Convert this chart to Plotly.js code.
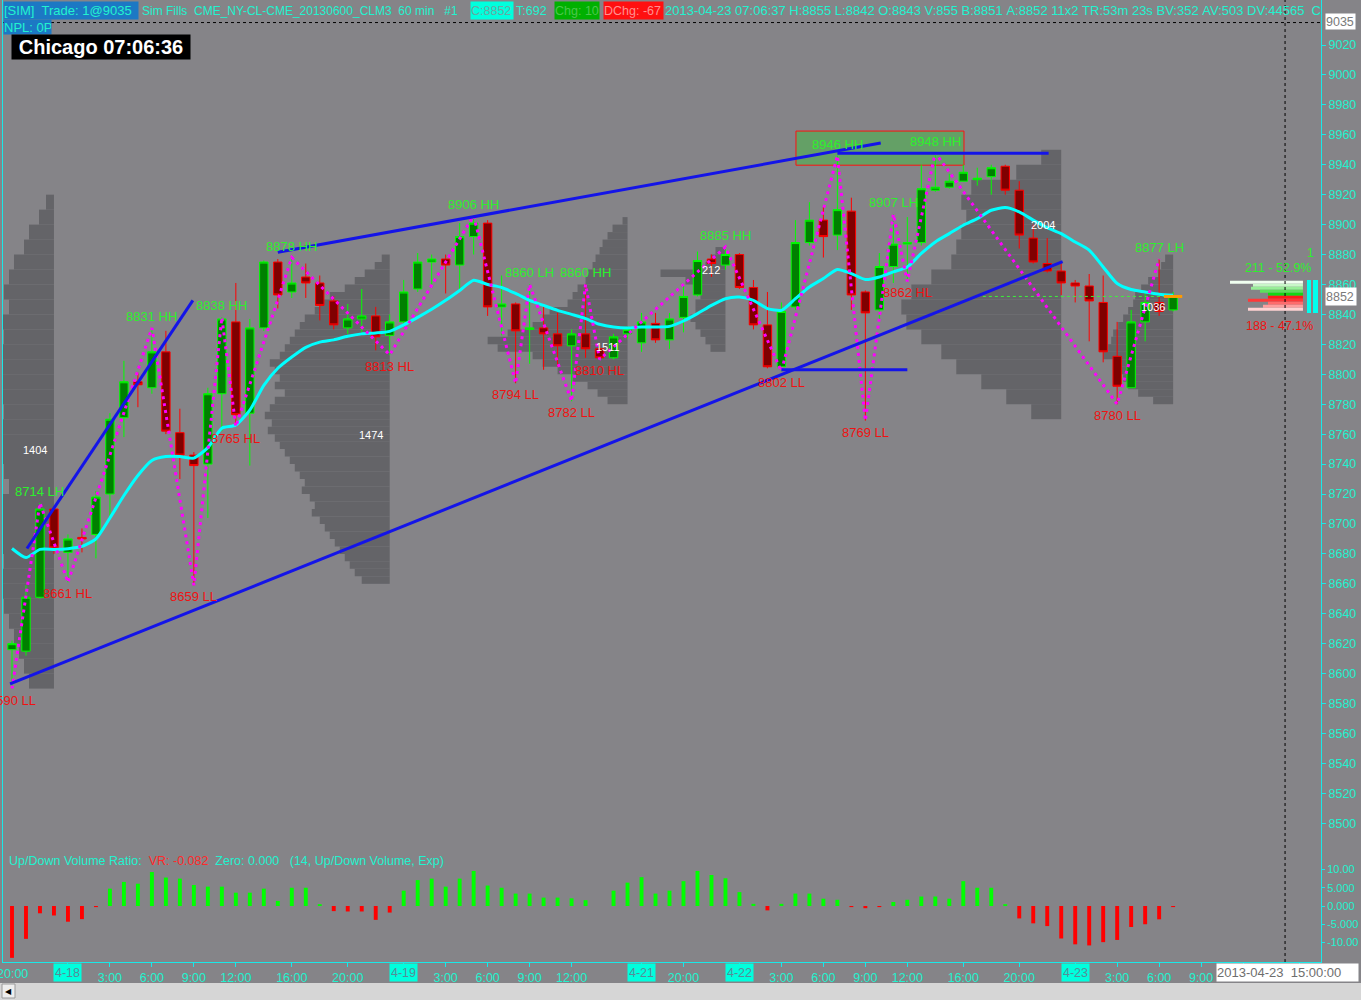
<!DOCTYPE html>
<html><head><meta charset="utf-8">
<script src="https://cdn.plot.ly/plotly-3.0.1.min.js"></script>
<style>html,body{margin:0;padding:0;background:#858488;overflow:hidden}#chart{width:1361px;height:1000px}</style>
</head><body><div id="chart"></div>
<script>
// ---------- DATA (60-min bars, index 0 = 2013-04-17 20:00 CT) ----------
const openP=[8616,8615,8651,8710,8681,8691,8693,8720,8771,8795, 8791,8815,8761,8746,8740,8787,8835,8774,8831,8875, 8855,8865,8861,8849,8831,8837,8839,8826,8835,8857, 8875,8877,8873,8892,8901,8845,8847,8830,8831,8827, 8819,8827,8817,8811,8827,8821,8834,8823,8838,8853, 8877,8873,8880,8858,8833,8805,8845,8888,8903,8893, 8909,8855,8843,8872,8887,8888,8923,8925,8929,8930, 8932,8939,8923,8891,8874,8869,8861,8859,8848,8812, 8791,8835,8848,8843];
const highP=[8622,8659,8714,8712,8693,8697,8722,8774,8809,8801, 8831,8829,8777,8748,8791,8838,8861,8837,8876,8877, 8878,8874,8866,8852,8847,8857,8845,8840,8863,8881, 8880,8880,8901,8906,8903,8866,8848,8860,8845,8841, 8830,8860,8820,8827,8832,8841,8841,8841,8860,8882, 8880,8885,8881,8863,8855,8848,8903,8915,8912,8946, 8918,8856,8881,8907,8905,8940,8948,8934,8940,8938, 8940,8940,8929,8900,8891,8875,8863,8867,8866,8835, 8843,8854,8877,8855];
const lowP=[8590,8612,8650,8680,8661,8681,8677,8704,8758,8778, 8787,8760,8730,8659,8704,8762,8765,8739,8829,8844, 8851,8851,8836,8830,8827,8828,8816,8813,8833,8855, 8860,8854,8857,8880,8839,8826,8794,8807,8803,8805, 8782,8811,8810,8810,8824,8815,8821,8817,8828,8852, 8865,8870,8857,8830,8804,8802,8843,8886,8878,8883, 8843,8769,8836,8861,8862,8886,8922,8924,8929,8926, 8920,8920,8884,8874,8868,8853,8848,8822,8808,8780, 8791,8822,8839,8842];
const closeP=[8620,8651,8710,8684,8690,8690,8718,8770,8795,8793, 8815,8762,8746,8739,8787,8837,8773,8831,8875,8853, 8861,8861,8846,8833,8837,8839,8825,8835,8855,8875, 8877,8873,8892,8901,8845,8847,8829,8831,8827,8819, 8827,8817,8811,8825,8830,8835,8823,8837,8852,8876, 8874,8880,8858,8833,8805,8842,8888,8903,8892,8910, 8853,8841,8872,8887,8888,8924,8925,8929,8935,8931, 8938,8923,8893,8875,8869,8861,8859,8849,8815,8792, 8835,8848,8842,8852];
const ema=[8683.6,8677.5,8683,8683,8683.5,8685,8690,8704,8719,8732.4, 8742.4,8745,8745,8744,8751,8764,8766,8776,8792.6,8804, 8811.5,8818,8821.5,8823,8825.4,8827,8827.6,8828.7,8833,8838, 8843.4,8849.4,8856,8862.8,8860,8858,8854,8849.4,8846,8842.7, 8840,8837.2,8833.4,8831.6,8831,8831.6,8831.6,8832,8835.6,8840.5, 8846,8850.5,8851.6,8849.4,8843.9,8842.7,8850.5,8858.3,8864,8870, 8867.3,8863.3,8865,8868.4,8871.7,8880.7,8888.4,8894,8899.6,8904, 8909.6,8911.4,8908.5,8903,8898,8894,8888.4,8883,8871.7,8860.6, 8856.6,8855,8853.4,8852.8];
const udvr=[-14.2,-9.0,-2.0,-2.6,-4.3,-3.6,-0.3,4.75,6.6,6.1, 9.3,7.8,7.5,5.75,5.3,5.3,3.65,3.65,4.75,1.4, 5.0,5.0,0.5,-1.4,-1.5,-1.5,-3.8,-1.8,4.2,7.1, 7.5,5.3,7.5,9.6,5.6,5.0,3.4,3.4,2.3,2.3, 2.1,1.6,0,4.2,6.4,7.9,3.4,4.2,6.8,9.6, 8.5,7.6,3.8,0.6,-1.2,0.6,3.4,3.4,2.0,1.7, -0.3,-0.6,-0.3,1.1,1.7,2.6,2.6,2.0,6.8,5.0, 5.0,0.5,-3.4,-4.75,-5.5,-8.9,-10.5,-10.8,-9.9,-9.3, -5.75,-5.0,-3.65,-0.3];

const swingIdx=[0,2,4,10,13,15,16,20,27,33,36,37,40,41,42,51,55,59,61,63,64,66,79,82];
const swingPrice=[8590,8714,8661,8831,8659,8838,8765,8878,8813,8906,8794,8860,8782,8860,8810,8885,8802,8946,8769,8907,8862,8948,8780,8877];
const swingTag=['LL','LH','HL','HH','LL','HH','HL','HH','HL','HH','LL','LH','LL','HH','HL','HH','LL','HH','LL','LH','HL','HH','LL','LH'];

const trendX=[[1.07,12.93],[19.0,62.1],[-0.14,75.1],[55.0,64.0],[59.0,74.1]];
const trendY=[[8683.6,8849.4],[8881.6,8954.5],[8593.1,8875.2],[8803,8803],[8947.6,8947.6]];
const zoneX=[56.04,68.05];
const zoneY=[8939.7,8962.5];

// session volume profiles (right-aligned at last bar of each session)
const profRight=[3,27,44,51,75,83];
const profTop=[8920,8880,8905,8885,8950,8880];
const profStep=[10,5,5,5,10,5];
const profA=[8,15,25,30,40,45,50,45,55,50,55,60,55,60,50,60,55,60,50,45,55,60,60,55,50,60,55,50,45,40,35,30,25];
const profB=[8,15,25,35,45,60,70,75,85,90,95,100,105,110,120,115,110,115,105,115,120,125,118,122,115,110,105,100,95,90,85,88,80,75,78,70,65,60,55,50,45,40,35,28];
const profC=[5,15,20,25,28,32,35,40,42,50,55,60,78,85,95,120,140,130,95,85,70,55,40,30,20];
const profD=[10,15,20,65,40,25,25,30,30,35,30,25,20,15];
const profE=[20,45,90,100,95,100,105,110,130,150,160,155,140,120,105,80,55,30];
const profF=[8,12,15,25,32,38,40,45,50,55,60,62,65,70,60,55,50,45,35,20];
const profTotal=['1404','1474','212','1511','2004','1036'];
const profLabelX=[1.64,25.66,49.96,42.6,73.7,81.56];
const profLabelY=[8749.4,8759.4,8869.7,8818.2,8899.7,8845];

// current bar bid/ask profile
const curPrice=[8861.5,8859.5,8857.5,8855.5,8853.5,8851.5,8849.5,8847.5,8845.5,8843.5];
const curVol=[73,50,52,43,35,35,55,35,40,55];

const timeTickIdx=[0,7,10,13,16,20,24,31,34,37,40,48,55,58,61,64,68,72,79,82,85];
const timeTickText=['20:00','3:00','6:00','9:00','12:00','16:00','20:00','3:00','6:00','9:00','12:00','20:00','3:00','6:00','9:00','12:00','16:00','20:00','3:00','6:00','9:00'];
const hiddenTickIdx=[88,92];
const dateTickIdx=[4,28,45,52,76];
const dateTickText=['4-18','4-19','4-21','4-22','4-23'];
const priceTicks=[8500,8520,8540,8560,8580,8600,8620,8640,8660,8680,8700,8720,8740,8760,8780,8800,8820,8840,8860,8880,8900,8920,8940,8960,8980,9000,9020];
const vrTicks=[-10,-5,0,5,10];
const vrTickText=['-10.00','-5.000','0.000','5.000','10.00'];

const tradePrice=9035;
const cursorIdx=91;
const curRightIdx=92.28;

// ---------- STYLE ----------
const BG='#858488', PROF='#646468', CY='#22f2cf', AXC='#19e8e8';
const GREEN_T='#2cf02c', RED_T='#f01212';
const FONT='"Liberation Sans", Arial, sans-serif';
const VOL_PER_BAR=14;
const L=3,R=1321,B=962,W=R-L,H=B;
const PX=x=>(x-L)/W, PY=y=>(B-y)/H;
const idx=openP.map((_,i)=>i);
const last=idx.length-1;

const traces=[];
[profA,profB,profC,profD,profE,profF].forEach((v,k)=>{
  traces.push({type:'bar',orientation:'h',xaxis:'x',yaxis:'y',
    y:v.map((_,j)=>profTop[k]-profStep[k]*(j+0.5)),
    x:v.map(q=>-q/VOL_PER_BAR),base:profRight[k],width:profStep[k],
    marker:{color:PROF,line:{width:0}},hoverinfo:'skip'});
});
const curColors=['#f0fff0','#c8f7c8','#98ee98','#5ce05c','#14d814','#ff1a1a','#ff3838','#ff6c6c','#ff9e9e','#ffd2d2'];
traces.push({type:'bar',orientation:'h',xaxis:'x',yaxis:'y',y:curPrice,x:curVol.map(q=>-q/VOL_PER_BAR),
  base:curRightIdx,width:2,marker:{color:curColors,line:{width:0}},hoverinfo:'skip'});

traces.push({type:'candlestick',xaxis:'x',yaxis:'y',x:idx,open:openP,high:highP,low:lowP,close:closeP,
  increasing:{line:{color:'#00ff00',width:1},fillcolor:'#008000'},
  decreasing:{line:{color:'#ff0000',width:1},fillcolor:'#800000'},
  whiskerwidth:0,hoverinfo:'skip'});

traces.push({type:'scatter',mode:'lines',xaxis:'x',yaxis:'y',x:[69.4,last+0.6],y:[closeP[last],closeP[last]],
  line:{color:'#3cf03c',width:1,dash:'dot'},hoverinfo:'skip'});
traces.push({type:'scatter',mode:'lines',xaxis:'x',yaxis:'y',x:idx,y:ema,
  line:{color:'#00ffff',width:3,shape:'spline',smoothing:0.6},hoverinfo:'skip'});
traces.push({type:'scatter',mode:'lines',xaxis:'x',yaxis:'y',x:swingIdx,y:swingPrice,
  line:{color:'#ff00ff',width:3,dash:'3px,4px'},hoverinfo:'skip'});
trendX.forEach((tx,k)=>traces.push({type:'scatter',mode:'lines',xaxis:'x',yaxis:'y',x:tx,y:trendY[k],
  line:{color:'#1414e8',width:3},hoverinfo:'skip'}));
traces.push({type:'scatter',mode:'markers',xaxis:'x',yaxis:'y',x:[last],y:[closeP[last]],
  marker:{symbol:'line-ew',size:13,line:{color:'#ff9a00',width:3}},hoverinfo:'skip'});

traces.push({type:'bar',xaxis:'x',yaxis:'y2',x:idx,y:udvr,width:0.28,
  marker:{color:udvr.map(v=>v>=0?'#00ff00':'#ff0000'),line:{width:0}},hoverinfo:'skip'});

// ---------- ANNOTATIONS ----------
const ann=[];
swingIdx.forEach((ix,k)=>{
  const hi=swingTag[k]==='HH'||swingTag[k]==='LH';
  ann.push({xref:'x',yref:'y',x:ix,y:swingPrice[k],text:swingPrice[k]+' '+swingTag[k],showarrow:false,
    xanchor:'center',yanchor:hi?'bottom':'top',yshift:hi?2:-2,font:{family:FONT,size:13,color:hi?GREEN_T:RED_T}});
});
profTotal.forEach((t,k)=>ann.push({xref:'x',yref:'y',x:profLabelX[k],y:profLabelY[k],text:t,showarrow:false,
  font:{family:FONT,size:11,color:'#ffffff'}}));
dateTickIdx.forEach((ix,k)=>ann.push({xref:'x',yref:'paper',x:ix,y:PY(973),text:dateTickText[k],showarrow:false,
  xanchor:'center',yanchor:'middle',bgcolor:'#00ffdd',borderpad:1,height:15,font:{family:FONT,size:12.5,color:'#568c98'}}));
// first time label sits at the very edge of the chart
ann.push({xref:'x',yref:'paper',x:timeTickIdx[0],y:PY(974),text:timeTickText[0],showarrow:false,xanchor:'center',yanchor:'middle',
  font:{family:FONT,size:12.5,color:CY}});

const nb=s=>s.split(/(<[^>]+>)/).map(p=>p.startsWith('<')?p:p.replace(/ /g,'\u00a0')).join('');
function hdr(text,x,y,o){return Object.assign({xref:'paper',yref:'paper',x:PX(x),y:PY(y),xanchor:'left',yanchor:'middle',
  text:nb(text),showarrow:false,borderpad:0,align:'left',font:{family:FONT,size:13,color:CY}},o||{});}
ann.push(hdr('[SIM]  Trade: 1@9035',3,10.5,{bgcolor:'#1c78c4',width:134,height:17}));
ann.push(hdr('Sim Fills  CME_NY-CL-CME_20130600_CLM3  60 min   #1',141,10.5,{font:{family:FONT,size:12,color:CY}}));
ann.push(hdr('C:8852',470,10.5,{bgcolor:'#00ffdd',width:42,height:17,font:{family:FONT,size:12.5,color:'#6aa8a2'}}));
ann.push(hdr('T:692',515,10.5,{font:{family:FONT,size:12.5,color:CY}}));
ann.push(hdr('Chg: 10',554,10.5,{bgcolor:'#00b000',width:44,height:17,font:{family:FONT,size:12.5,color:'#4cc64c'}}));
ann.push(hdr('DChg: -67',603,10.5,{bgcolor:'#ff1010',width:59,height:17,font:{family:FONT,size:12.5,color:'#ff9090'}}));
ann.push(hdr('2013-04-23 07:06:37 H:8855 L:8842 O:8843 V:855 B:8851 A:8852 11x2 TR:53m 23s BV:352 AV:503 DV:44565  C',664,10.5));
ann.push(hdr('NPL: 0P',3,26.5,{bgcolor:'#1c78c4',width:47,height:14}));
ann.push(hdr('<b>Chicago 07:06:36</b>',11,47,{bgcolor:'#000000',width:178,height:24,align:'center',font:{family:FONT,size:20,color:'#ffffff'}}));
ann.push(hdr('Up/Down Volume Ratio:  <span style="color:#ff2a2a">VR: -0.082</span>  Zero: 0.000   (14, Up/Down Volume, Exp)',8,861,{font:{family:FONT,size:12.5,color:CY}}));
ann.push(hdr('9035',1325,22,{bgcolor:'#ffffff',width:29,height:15,font:{family:FONT,size:12.5,color:'#7a7a7a'}}));
ann.push(hdr('8852',1325,296,{bgcolor:'#ffffff',width:30,height:17,font:{family:FONT,size:12.5,color:'#7a7a7a'}}));
ann.push(hdr('2013-04-23  15:00:00',1216,973,{bgcolor:'#ffffff',width:141,height:17,font:{family:FONT,size:13,color:'#6e6e6e'}}));
ann.push(hdr('211 - 52.9%',1244,268,{font:{family:FONT,size:12.5,color:'#2cf02c'}}));
ann.push(hdr('188 - 47.1%',1245,326,{font:{family:FONT,size:12.5,color:'#f01212'}}));
ann.push(hdr('1',1306,253,{font:{family:FONT,size:12.5,color:'#2cf02c'}}));
ann.push(hdr('◀',4,991,{font:{family:'DejaVu Sans',size:8,color:'#000000'}}));

// ---------- SHAPES ----------
const shapes=[
  {type:'rect',xref:'x',yref:'y',x0:zoneX[0],x1:zoneX[1],y0:zoneY[0],y1:zoneY[1],fillcolor:'rgba(80,178,80,0.62)',line:{color:'#ff1010',width:1},layer:'below'},
  {type:'line',xref:'paper',yref:'y',x0:0,x1:1,y0:tradePrice,y1:tradePrice,line:{color:'#000000',width:1,dash:'dot'}},
  {type:'line',xref:'x',yref:'paper',x0:cursorIdx,x1:cursorIdx,y0:0,y1:1,line:{color:'#000000',width:1,dash:'dot'}},
  {type:'rect',xref:'paper',yref:'paper',x0:PX(1307),x1:PX(1311),y0:PY(313),y1:PY(280),fillcolor:'#00ffee',line:{width:0}},
  {type:'rect',xref:'paper',yref:'paper',x0:PX(1313),x1:PX(1318),y0:PY(313),y1:PY(280),fillcolor:'#00ffee',line:{width:0}},
  {type:'rect',xref:'paper',yref:'paper',x0:PX(0),x1:PX(1361),y0:PY(1000),y1:PY(983),fillcolor:'#d6d6d6',line:{width:0}},
  {type:'rect',xref:'paper',yref:'paper',x0:PX(2),x1:PX(15),y0:PY(998),y1:PY(984),fillcolor:'#eeeeee',line:{color:'#9a9a9a',width:1}}
];

const axFont={family:FONT,size:12.5,color:CY};
const layout={
  width:1361,height:1000,margin:{l:3,r:40,t:0,b:38,pad:0},
  paper_bgcolor:BG,plot_bgcolor:BG,showlegend:false,barmode:'overlay',
  boxgap:0.4,boxgroupgap:0,hovermode:false,
  xaxis:{type:'linear',range:[-0.643,93.57],anchor:'y2',showgrid:false,zeroline:false,showline:true,linecolor:AXC,linewidth:1,
    ticks:'outside',ticklen:4,tickcolor:AXC,tickvals:timeTickIdx.slice(1).concat(dateTickIdx,hiddenTickIdx),
    ticktext:timeTickText.slice(1).concat(dateTickIdx.map(()=>''),hiddenTickIdx.map(()=>'')),tickfont:axFont,rangeslider:{visible:false},fixedrange:true},
  yaxis:{domain:[112/962,1],range:[8482.15,9050.07],side:'right',anchor:'x',showgrid:false,zeroline:false,showline:true,mirror:true,
    linecolor:AXC,linewidth:1,ticks:'outside',ticklen:4,tickcolor:AXC,tickvals:priceTicks,ticktext:priceTicks.map(String),tickfont:axFont,fixedrange:true},
  yaxis2:{domain:[0,112/962],range:[-15.34,15.34],side:'right',anchor:'x',showgrid:false,zeroline:false,showline:true,mirror:true,
    linecolor:AXC,linewidth:1,ticks:'outside',ticklen:3,tickcolor:AXC,tickvals:vrTicks,ticktext:vrTickText,
    tickfont:{family:FONT,size:11,color:CY},fixedrange:true},
  annotations:ann,shapes:shapes
};
Plotly.newPlot('chart',traces,layout,{staticPlot:true,displayModeBar:false});
</script></body></html>
